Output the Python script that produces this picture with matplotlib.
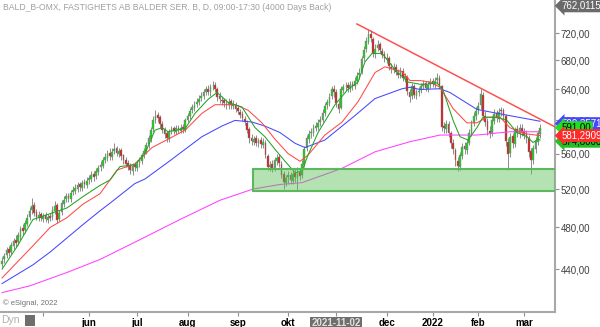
import matplotlib.pyplot as plt
from matplotlib.patches import Rectangle
import numpy as np

plt.rcParams['font.family'] = ['Liberation Sans', 'DejaVu Sans']

# daily OHLC, BALD_B, apr 2021 - mar 2022
opens = [445, 449, 453, 459, 456, 462, 468, 466, 471, 479, 477, 483,
         491, 498, 503, 496, 490, 494, 489, 493, 488, 492, 491, 497,
         503, 489, 496, 504, 509, 513, 509, 517, 518, 520, 525, 521,
         528, 524, 530, 531, 537, 534, 539, 544, 546, 553, 555, 561,
         556, 563, 566, 560, 564, 558, 553, 549, 546, 540, 547, 543,
         549, 551, 559, 562, 571, 577, 589, 601, 607, 604, 596, 589,
         584, 577, 587, 590, 586, 591, 587, 592, 588, 601, 605, 613,
         616, 621, 623, 629, 631, 637, 641, 636, 644, 646, 640, 631,
         626, 626, 621, 619, 625, 618, 620, 616, 611, 608, 602, 597,
         589, 579, 574, 578, 572, 576, 570, 573, 557, 544, 548, 542,
         551, 556, 548, 537, 527, 533, 536, 529, 538, 532, 539, 535,
         547, 566, 577, 584, 585, 591, 592, 598, 601, 609, 619, 622,
         631, 641, 637, 621, 616, 639, 644, 646, 641, 647, 645, 651,
         659, 664, 683, 696, 707, 719, 711, 689, 698, 703, 694, 689,
         682, 683, 671, 667, 671, 663, 659, 665, 655, 657, 637, 631,
         644, 632, 637, 639, 645, 649, 641, 647, 651, 646, 653, 656,
         644, 593, 589, 596, 584, 573, 564, 551, 545, 557, 569, 564,
         573, 584, 597, 605, 613, 619, 633, 606, 599, 587, 585, 599,
         609, 602, 613, 613, 605, 574, 561, 581, 571, 589, 584, 591,
         587, 583, 579, 563, 552, 565, 574, 583]
highs = [451, 455, 461, 462, 466, 470, 472, 475, 481, 483, 487, 494,
         501, 510, 506, 499, 497, 496, 495, 496, 494, 495, 502, 507,
         505, 498, 508, 512, 516, 516, 519, 523, 525, 528, 528, 530,
         531, 533, 536, 540, 540, 543, 547, 551, 556, 561, 564, 566,
         566, 572, 569, 567, 566, 560, 556, 552, 549, 549, 550, 552,
         556, 561, 567, 574, 582, 592, 605, 613, 611, 607, 599, 592,
         587, 589, 593, 593, 594, 594, 595, 596, 603, 610, 616, 621,
         625, 629, 633, 637, 640, 645, 646, 648, 652, 650, 643, 636,
         631, 629, 627, 629, 628, 626, 624, 620, 615, 612, 606, 600,
         592, 583, 581, 582, 579, 580, 578, 576, 560, 551, 552, 556,
         560, 559, 551, 540, 536, 540, 539, 541, 542, 544, 543, 552,
         569, 582, 588, 591, 595, 598, 602, 605, 614, 622, 628, 635,
         645, 646, 640, 626, 644, 648, 650, 650, 651, 652, 657, 664,
         669, 687, 701, 714, 726, 724, 714, 703, 709, 707, 698, 693,
         690, 686, 676, 676, 675, 668, 671, 669, 663, 660, 641, 649,
         647, 641, 643, 649, 653, 652, 651, 655, 656, 657, 663, 659,
         646, 598, 600, 599, 587, 577, 567, 556, 562, 572, 574, 577,
         589, 600, 611, 617, 623, 641, 636, 612, 603, 593, 605, 614,
         613, 616, 617, 616, 608, 578, 584, 585, 592, 594, 595, 595,
         591, 588, 582, 566, 570, 580, 588, 595]
lows = [442, 446, 450, 452, 454, 459, 461, 463, 468, 472, 474, 481,
        488, 494, 492, 487, 486, 486, 485, 485, 484, 486, 488, 494,
        484, 486, 493, 501, 506, 506, 506, 514, 515, 517, 518, 518,
        521, 521, 526, 528, 529, 531, 536, 540, 543, 549, 551, 553,
        552, 559, 557, 556, 553, 548, 544, 541, 537, 536, 540, 540,
        545, 548, 555, 559, 567, 574, 586, 597, 598, 591, 584, 579,
        574, 574, 583, 583, 583, 584, 584, 585, 586, 598, 602, 609,
        612, 617, 619, 625, 627, 633, 633, 632, 639, 636, 625, 622,
        620, 617, 615, 615, 614, 614, 611, 608, 603, 599, 594, 584,
        573, 570, 570, 569, 568, 567, 566, 555, 541, 540, 539, 540,
        547, 545, 532, 520, 523, 526, 525, 525, 528, 519, 530, 532,
        545, 563, 573, 579, 581, 587, 588, 593, 598, 605, 614, 618,
        627, 630, 617, 610, 614, 635, 639, 637, 637, 639, 641, 647,
        654, 661, 679, 692, 703, 706, 685, 684, 693, 690, 683, 678,
        677, 667, 663, 662, 659, 655, 655, 651, 650, 633, 624, 628,
        629, 628, 632, 635, 640, 638, 637, 642, 643, 642, 648, 641,
        587, 585, 585, 580, 566, 560, 546, 540, 541, 554, 560, 560,
        570, 581, 593, 601, 608, 615, 600, 593, 582, 578, 581, 595,
        598, 598, 606, 600, 569, 541, 556, 567, 568, 580, 579, 581,
        577, 573, 556, 537, 548, 561, 570, 578]
closes = [448, 452, 458, 455, 463, 467, 465, 472, 478, 476, 484, 490,
          497, 502, 495, 491, 493, 490, 492, 489, 491, 490, 498, 502,
          488, 495, 505, 508, 512, 510, 516, 519, 521, 524, 522, 527,
          525, 529, 532, 536, 533, 540, 543, 547, 552, 556, 560, 557,
          562, 565, 561, 563, 557, 552, 548, 545, 541, 546, 544, 548,
          552, 558, 563, 570, 578, 588, 600, 606, 603, 595, 588, 583,
          578, 586, 589, 587, 590, 588, 591, 589, 600, 606, 612, 617,
          620, 624, 628, 632, 636, 640, 637, 643, 645, 641, 630, 627,
          625, 622, 620, 624, 619, 621, 615, 612, 607, 603, 598, 588,
          578, 575, 577, 573, 575, 571, 574, 558, 545, 547, 543, 552,
          555, 549, 536, 528, 532, 535, 530, 537, 533, 538, 534, 548,
          565, 578, 583, 586, 590, 593, 597, 600, 610, 618, 623, 630,
          640, 636, 622, 615, 640, 643, 645, 642, 646, 644, 652, 658,
          663, 682, 695, 708, 718, 712, 690, 697, 702, 695, 688, 683,
          684, 672, 668, 670, 664, 660, 666, 656, 658, 638, 630, 645,
          633, 636, 638, 644, 648, 642, 646, 650, 647, 652, 655, 645,
          592, 590, 595, 585, 572, 565, 552, 546, 558, 568, 565, 572,
          585, 596, 606, 612, 618, 634, 605, 598, 588, 584, 600, 608,
          603, 611, 612, 606, 575, 560, 580, 572, 588, 585, 590, 586,
          582, 578, 562, 553, 566, 575, 584, 591]

# moving averages, sampled (bar index, value)
ma_green_x = [0, 6.5, 13.5, 21, 28.4, 35.4, 42.8, 47.2, 51.5, 58, 62.4, 66.8, 69.9, 72.5, 80, 84.3, 90, 93.9,
              98.7, 104.8, 110.5, 114.8, 119.2, 123.6, 128, 131, 133.6, 138, 145.4, 151, 155.5, 158.5, 161.6,
              166, 171.6, 177.3, 182.5, 185.6, 190, 192.6, 197, 200, 203.5, 207.4, 210, 216.2, 220.5, 224.9,
              229.3, 231.9, 234.1, 235]
ma_green = [440, 461, 488, 494, 500, 512, 524, 530, 545, 547, 560, 588, 591, 586, 590, 609, 627, 636,
            623, 617, 591, 580, 565, 551, 538, 540, 558, 585, 620, 640, 650, 678, 690,
            690, 667, 650, 647, 647, 649, 639, 600, 580, 576, 591, 604, 604, 600, 585,
            580, 573, 577, 576]
ma_red_x = [0, 13.5, 21, 28.4, 35.4, 42.8, 50.2, 58, 65.5, 72.5, 80, 87.3, 93, 101.7, 107.4, 113.5, 119.2,
            124.9, 130.1, 133.6, 141, 148.5, 155.5, 162.9, 167.2, 174.7, 178.2, 182.5, 186.9, 191.3, 197,
            203, 207.4, 211.8, 217.5, 221.8, 227.5, 235]
ma_red = [432, 462, 480, 490, 504, 515, 541, 548, 567, 577, 588, 609, 620, 620, 613, 597, 577,
          560, 551, 558, 582, 598, 624, 663, 671, 664, 652, 652, 650, 643, 615,
          597, 597, 604, 604, 591, 584, 581.3]
ma_blue_x = [0, 13.5, 21, 35.4, 42.8, 47.2, 58, 62.4, 72.5, 87.3, 96, 101.7, 109.2, 114.8, 121.4, 128, 132.3,
             141, 154.1, 162.9, 174.7, 178.2, 182.5, 191.3, 195.6, 207.4, 214.4, 221.8, 235]
ma_blue = [427, 444, 456, 483, 497, 505, 526, 531, 550, 580, 593, 600, 598, 593, 585, 572, 567,
           576, 606, 628, 641, 643, 640, 641, 636, 614, 610, 606, 599]
ma_pink_x = [0, 12.2, 28.4, 42.8, 60.3, 77.7, 95.2, 109.6, 121.4, 131, 148.5, 162.9, 178.2, 191.3, 207.4,
             221.8, 235]
ma_pink = [419, 425, 437, 449, 468, 488, 508, 520, 525, 527, 543, 562, 574, 582, 582, 586, 586]

trend_x = [155, 241.5]
trend_y = [733.7, 592]
zone_x = [109.6, 241.5]
zone_y = [518, 542]

yticks = [440, 480, 520, 560, 600, 640, 680, 720]
xticks = [18, 38, 59, 81, 103, 125, 146, 168, 188, 208, 228]
xlabels = ['', 'jun', 'jul', 'aug', 'sep', 'okt', '2021-11-02', 'dec', '2022', 'feb', 'mar']

fig = plt.figure(figsize=(6, 3.27), dpi=100)
ax = fig.add_axes([0, 15 / 327, 555 / 600, 312 / 327])
ax.set_yscale('log')
ax.set_ylim(402.4, 771.3)
ax.set_xlim(-0.9, 241.5)

o = np.array(opens, float)
c = np.array(closes, float)
idx = np.arange(len(c))
up = c >= o
ax.vlines(idx, lows, highs, color='#8c8c8c', lw=0.7, zorder=2)
ax.bar(idx[up], np.maximum(c - o, 0.6)[up], bottom=o[up], width=0.75, color='#1ccf1c',
       edgecolor='#808080', linewidth=0.3, zorder=3)
ax.bar(idx[~up], np.maximum(o - c, 0.6)[~up], bottom=c[~up], width=0.75, color='#d42020',
       edgecolor='#808080', linewidth=0.3, zorder=3)

ax.plot(ma_pink_x, ma_pink, color='#ff40ff', lw=0.75, zorder=4)
ax.plot(ma_blue_x, ma_blue, color='#4646ff', lw=0.75, zorder=4)
ax.plot(ma_red_x, ma_red, color='#ff4848', lw=0.75, zorder=4)
ax.plot(ma_green_x, ma_green, color='#22a322', lw=0.75, zorder=4)

ax.add_patch(Rectangle((zone_x[0], zone_y[0]), zone_x[1] - zone_x[0] + 5, zone_y[1] - zone_y[0],
                       facecolor=(0.35, 0.75, 0.33, 0.45), edgecolor='#5cb85c', lw=1.5, zorder=5))
ax.plot(trend_x, trend_y, color='#ff5050', lw=1.1, zorder=6)

# axes styling
ax.yaxis.tick_right()
ax.set_yticks(yticks)
ax.set_yticklabels([f'{v},00' for v in yticks])
ax.minorticks_off()
ax.tick_params(axis='y', direction='out', length=3, width=0.8, color='#909090',
               labelsize=7, labelcolor='#404040', pad=1)
ax.set_xticks(xticks)
ax.set_xticklabels(xlabels)
ax.tick_params(axis='x', direction='out', length=3, width=0.8, color='#909090',
               labelsize=7, labelcolor='black', pad=1.5)
for lab in ax.get_xticklabels():
    lab.set_fontweight('bold')
    if lab.get_text() == '2021-11-02':
        lab.set_color('#e0e0e0')
        lab.set_bbox(dict(boxstyle='square,pad=0.15', fc='#6e6e6e', ec='none'))
for s in ['top', 'left']:
    ax.spines[s].set_visible(False)
for s in ['right', 'bottom']:
    ax.spines[s].set_color('#a8a8a8')
    ax.spines[s].set_linewidth(1.5)

# price labels on the right axis
tr = ax.get_yaxis_transform()
def tag(y, txt, fc, tc):
    ax.text(1.012, y, txt, transform=tr, fontsize=7, color=tc, va='center', ha='left', zorder=10,
            clip_on=False, bbox=dict(boxstyle='larrow,pad=0.15', fc=fc, ec='none'))

tag(762.0, '762,01158', '#6a6a6a', 'white')
tag(596.0, '599,35714', '#4646ff', 'white')
tag(574.5, '574,80000', '#22c022', 'black')
tag(591.0, '591,00', '#22dd22', 'black')
tag(581.3, '581,29098', '#ff2a2a', 'white')

fig.text(3 / 600, 1 - 8 / 327, 'BALD_B-OMX, FASTIGHETS AB BALDER SER. B, D, 09:00-17:30 (4000 Days Back)',
         fontsize=6.2, color='#a0a0a0', va='center', ha='left')
fig.text(3 / 600, 1 - 303 / 327, '\u00a9 eSignal, 2022', fontsize=5.5, color='#707070', va='center', ha='left')
fig.text(1 / 600, 1 - 320 / 327, 'Dyn', fontsize=7.5, color='#b0b0b0', va='center', ha='left')
fig.patches.append(Rectangle((25 / 600, 1 - 326 / 327), 10 / 600, 11 / 327, transform=fig.transFigure,
                             fc='#6e6e6e', ec='none'))

fig.savefig('out.png', dpi=100)
